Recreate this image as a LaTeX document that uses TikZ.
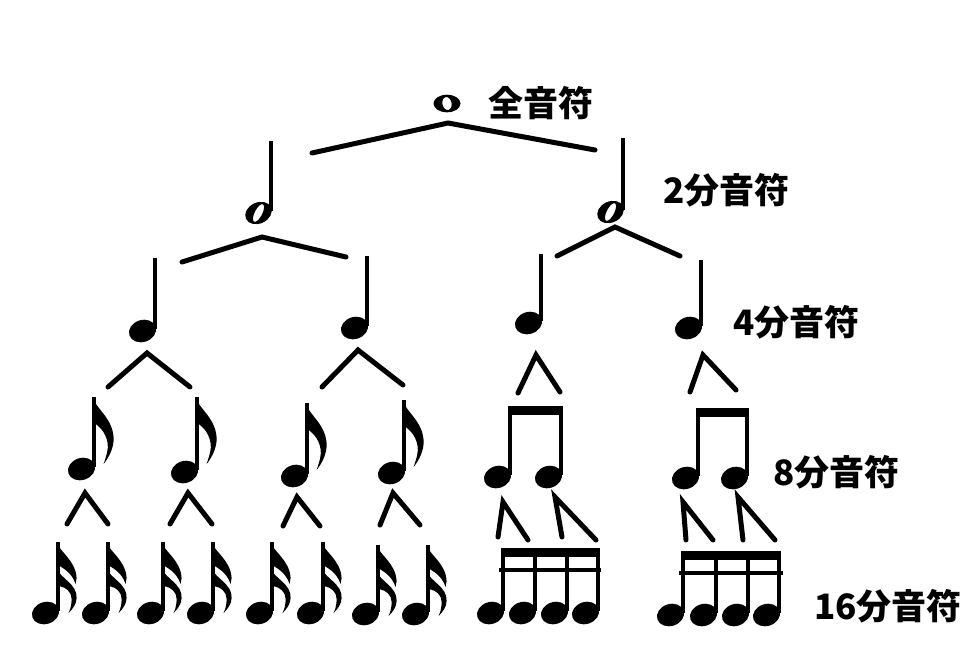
\documentclass[tikz,border=0pt]{standalone}
\usepackage{fontspec}
\newfontfamily\jpfont{Noto Sans CJK JP}
\tikzset{
  branch/.style={line width=5pt, line cap=round, line join=miter},
  stemline/.style={line width=3.2pt},
  lab/.style={anchor=west, inner sep=0pt, font=\jpfont\bfseries\fontsize{35}{35}\selectfont},
}
% note head: centre x, centre y
\newcommand\NHead[2]{\fill[rotate around={18:(#1,#2)}] (#1,#2) ellipse [x radius=13.8pt, y radius=11pt];}
% quarter note: stem x, head y, stem top y
\newcommand\QNote[3]{\NHead{#1-12.5}{#2}\draw[stemline] (#1,#2-2) -- (#1,#3);}
% eighth flag at stem x, top y
\newcommand\EFlag[2]{\fill[shift={(#1-1.4,#2)}] (0,0) .. controls (3,12) and (22,22) .. (21,44) .. controls (20,54) and (15,62) .. (11,67) .. controls (14,58) and (16,52) .. (15,46) .. controls (13,34) and (5,28) .. (0,25) -- cycle;}
\newcommand\ENote[3]{\QNote{#1}{#2}{#3}\EFlag{#1}{#3}}
% sixteenth flags
\newcommand\SFlag[2]{%
  \fill[shift={(#1-1.4,#2)}] (0,0) .. controls (3,10) and (19,18) .. (20,36) -- (19,42) .. controls (15,30) and (6,26) .. (0,22) -- cycle;
  \fill[shift={(#1-1.4,#2)}] (0,26) .. controls (3,36) and (21,42) .. (20,56) .. controls (20,62) and (16,67) .. (12,71) .. controls (15,64) and (16,58) .. (14,52) .. controls (11,46) and (5,44) .. (0,44) -- cycle;}
\newcommand\SNote[3]{\QNote{#1}{#2}{#3}\SFlag{#1}{#3}}
% half note: stem x, head y, top y
\newcommand\HNote[3]{%
  \fill[even odd rule] [rotate around={25:(#1-12.5,#2)}] (#1-12.5,#2) ellipse [x radius=13.8pt, y radius=10.5pt]
     [rotate around={38:(#1-12.5,#2)}] (#1-12.5,#2) ellipse [x radius=9.8pt, y radius=3.8pt];
  \draw[stemline] (#1,#2-2) -- (#1,#3);}
\begin{document}
\begin{tikzpicture}[x=1pt,y=-1pt]
\useasboundingbox (0,0) rectangle (978,649);
\fill[white] (0,0) rectangle (978,649);

% whole note
\fill[even odd rule] (447,103.5) ellipse [x radius=13.5pt, y radius=8.8pt]
   [rotate around={12:(447,103.5)}] (447,103.5) ellipse [x radius=4.6pt, y radius=6.6pt];

% half notes
\HNote{271}{213}{141}
\HNote{623}{212}{138}

% quarter notes
\QNote{155}{331}{258}
\QNote{367}{328}{256}
\QNote{541}{323}{254}
\QNote{701}{328}{260}

% single eighths
\ENote{94}{469}{397}
\ENote{197}{472}{397}
\ENote{307}{476}{403}
\ENote{404}{473}{400}

% beamed eighths
\QNote{510}{477}{410}
\QNote{561}{477}{410}
\fill (508.4,406) rectangle (562.6,414.5);
\QNote{698}{478}{412}
\QNote{747}{478}{412}
\fill (696.4,408) rectangle (748.6,416.5);

% single sixteenths
\SNote{58}{613}{542}
\SNote{108}{613}{542}
\SNote{163}{613}{542}
\SNote{213}{613}{542}
\SNote{272}{613}{542}
\SNote{323}{613}{542}
\SNote{378}{614}{545}
\SNote{428}{614}{545}

% beamed sixteenths
\QNote{503}{613}{552}
\QNote{535}{613}{552}
\QNote{567}{613}{552}
\QNote{598}{613}{552}
\fill (501.4,548) rectangle (599.6,557);
\fill (499,567.5) rectangle (601,571.5);
\QNote{683}{615}{555}
\QNote{716}{615}{555}
\QNote{748}{615}{555}
\QNote{779}{615}{555}
\fill (681.4,551) rectangle (780.6,559.5);
\fill (679,570.5) rectangle (783,574.5);

% branches
\draw[branch] (312,153) -- (448,123) -- (595,150);
\draw[branch] (182,262) -- (262,237) -- (346,257);
\draw[branch] (557,256) -- (615,227) -- (680,256);
\draw[branch] (108,387) -- (147,353) -- (190,387);
\draw[branch] (322,387) -- (358,350) -- (403,385);
\draw[branch] (518,393) -- (536,355) -- (560,392);
\draw[branch] (690,392) -- (703,355) -- (736,390);
\draw[branch] (67,524) -- (85,493) -- (108,524);
\draw[branch] (170,524) -- (188,493) -- (212,524);
\draw[branch] (283,526) -- (297,497) -- (320,526);
\draw[branch] (380,525) -- (393,493) -- (420,525);
\draw[branch] (498,537) -- (503,502) -- (528,540);
\draw[branch] (562,537) -- (555,497) -- (596,540);
\draw[branch] (686,540) -- (683,502) -- (713,540);
\draw[branch] (743,540) -- (738,497) -- (775,540);

% labels
\node[lab] (lw) at (488,103) {全音符};
\node[lab] (lh) at (663,190) {2分音符};
\node[lab] (lq) at (733,322) {4分音符};
\node[lab] (le) at (773,472) {8分音符};
\node[lab] (ls) at (814,606) {16分音符};
\end{tikzpicture}
\end{document}
